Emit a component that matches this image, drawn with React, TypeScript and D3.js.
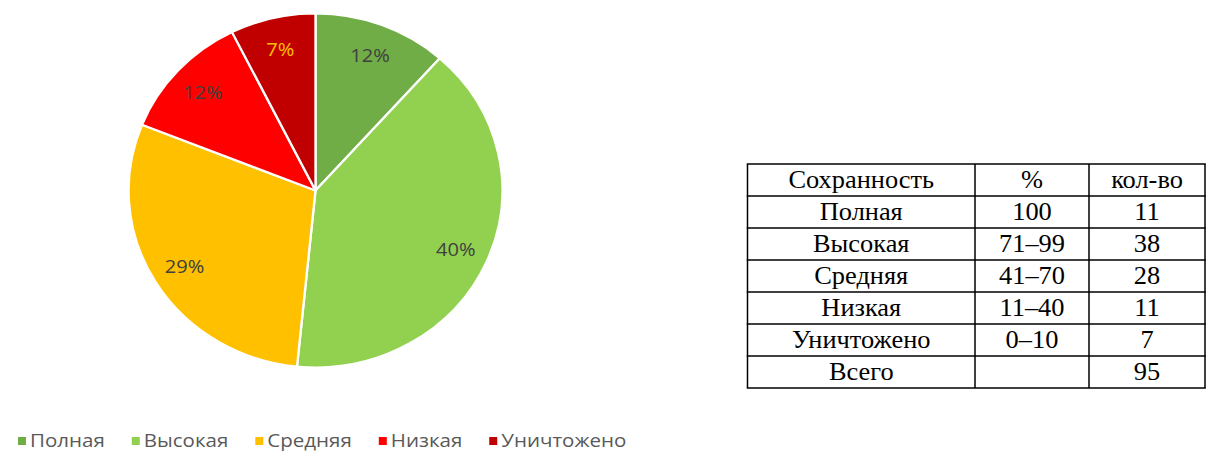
import React, { useEffect, useRef } from "react";
import * as d3 from "d3";

const categories = ["Полная", "Высокая", "Средняя", "Низкая", "Уничтожено"];
const counts = [11, 38, 28, 11, 7];
const ranges = ["100", "71–99", "41–70", "11–40", "0–10"];
const colors = ["#70AD47", "#92D050", "#FFC000", "#FF0000", "#C00000"];
const labelColors = ["#404040", "#404040", "#404040", "#404040", "#FFC000"];
const tableHeader = ["Сохранность", "%", "кол-во"];
const totalLabel = "Всего";

export default function App() {
  const ref = useRef<SVGSVGElement | null>(null);

  useEffect(() => {
    const svg = d3.select(ref.current);
    svg.selectAll("*").remove();

    const total = d3.sum(counts);
    const data = categories.map((c, i) => ({ c, v: counts[i], i }));

    // Pie
    const r = 177;
    const g = svg.append("g").attr("transform", "translate(315.5,190.5) scale(1.056,1)");
    const pie = d3.pie<any>().sort(null).value((d) => d.v);
    const arc = d3.arc<any>().innerRadius(0).outerRadius(r);
    const labelArc = d3.arc<any>().innerRadius(r * 0.82).outerRadius(r * 0.82);
    const arcs = pie(data);
    g.selectAll("path")
      .data(arcs)
      .join("path")
      .attr("d", arc)
      .attr("fill", (d) => colors[d.data.i])
      .attr("stroke", "#fff")
      .attr("stroke-width", 2.2)
      .attr("stroke-linejoin", "round");
    g.selectAll("text")
      .data(arcs)
      .join("text")
      .attr("transform", (d) => `translate(${labelArc.centroid(d)})`)
      .attr("text-anchor", "middle")
      .attr("dy", "0.36em")
      .attr("font-family", "'Open Sans', sans-serif")
      .attr("font-size", 19)
      .attr("fill", (d) => labelColors[d.data.i])
      .text((d) => `${Math.round((d.data.v / total) * 100)}%`);

    // Legend
    const lg = svg.append("g").attr("transform", "translate(18,441)");
    const sx = 1.14;
    let x = 0;
    categories.forEach((c, i) => {
      const item = lg.append("g").attr("transform", `translate(${x},0)`);
      item.append("rect").attr("x", 0).attr("y", -4).attr("width", 8).attr("height", 8).attr("fill", colors[i]);
      const t = item
        .append("text")
        .attr("transform", `translate(12,0) scale(${sx},1)`)
        .attr("dy", "0.36em")
        .attr("font-family", "'Open Sans', sans-serif")
        .attr("font-size", 18)
        .attr("fill", "#595959")
        .text(c);
      const w = (t.node() as SVGTextElement).getComputedTextLength() * sx;
      x += 12 + w + 27;
    });

    // Table
    const tx = [747.5, 975, 1089, 1205];
    const rows = [tableHeader, ...categories.map((c, i) => [c, ranges[i], String(counts[i])]), [totalLabel, "", String(total)]];
    const y = d3.scaleLinear().domain([0, rows.length]).range([164, 388]);
    const tg = svg.append("g");
    rows.forEach((row, ri) => {
      row.forEach((cell, ci) => {
        tg.append("text")
          .attr("transform", `translate(${(tx[ci] + tx[ci + 1]) / 2},${y(ri + 0.5)}) scale(1.056,1)`)
          .attr("dy", "0.33em")
          .attr("text-anchor", "middle")
          .attr("font-family", "'Liberation Serif', 'Times New Roman', serif")
          .attr("font-size", 25)
          .attr("fill", "#000")
          .text(cell);
      });
    });
    for (let ri = 0; ri <= rows.length; ri++) {
      tg.append("line")
        .attr("x1", tx[0] - 0.75).attr("x2", tx[3] + 0.75)
        .attr("y1", y(ri)).attr("y2", y(ri))
        .attr("stroke", "#000").attr("stroke-width", 1.5);
    }
    tx.forEach((xx) => {
      tg.append("line")
        .attr("x1", xx).attr("x2", xx)
        .attr("y1", y(0)).attr("y2", y(rows.length))
        .attr("stroke", "#000").attr("stroke-width", 1.5);
    });
  }, []);

  return (
    <svg
      ref={ref}
      width={1208}
      height={454}
      style={{ position: "absolute", left: 0, top: 0, background: "#fff" }}
    />
  );
}
